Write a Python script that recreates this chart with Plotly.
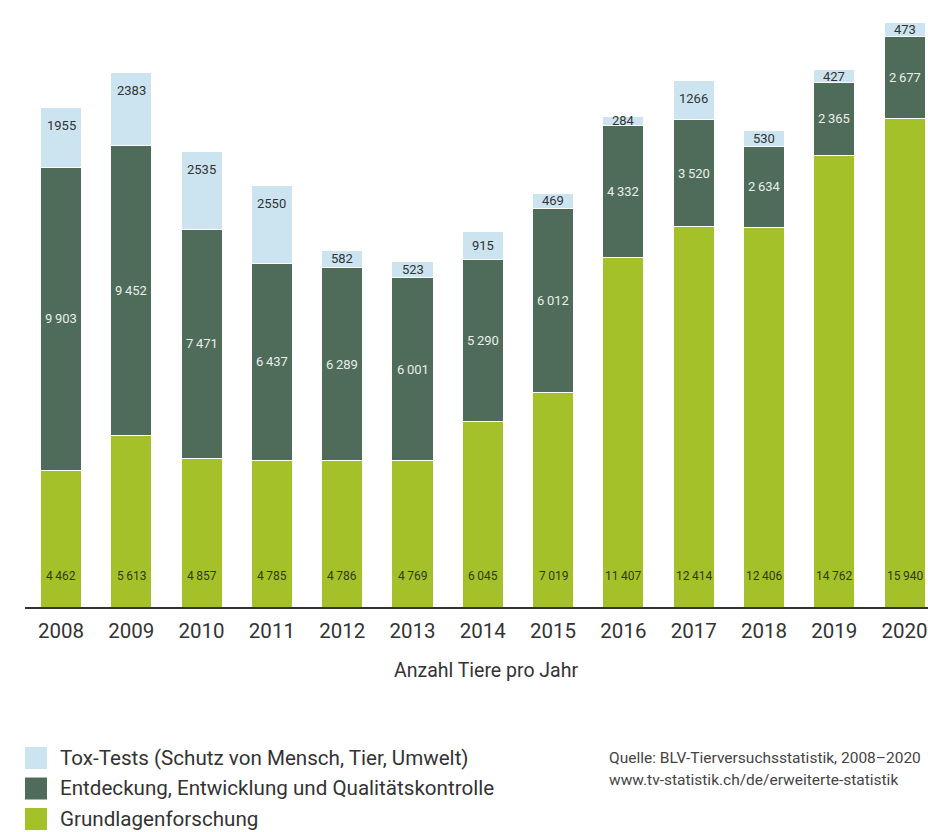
import plotly.graph_objects as go

years = [2008, 2009, 2010, 2011, 2012, 2013, 2014, 2015, 2016, 2017, 2018, 2019, 2020]
grundlagen = [4462, 5613, 4857, 4785, 4786, 4769, 6045, 7019, 11407, 12414, 12406, 14762, 15940]
entwicklung = [9903, 9452, 7471, 6437, 6289, 6001, 5290, 6012, 4332, 3520, 2634, 2365, 2677]
tox = [1955, 2383, 2535, 2550, 582, 523, 915, 469, 284, 1266, 530, 427, 473]

names = ["Grundlagenforschung",
         "Entdeckung, Entwicklung und Qualitätskontrolle",
         "Tox-Tests (Schutz von Mensch, Tier, Umwelt)"]
colors = ["#a5c12a", "#4f6b5a", "#cbe4f0"]
source_lines = ["Quelle: BLV-Tierversuchsstatistik, 2008–2020",
                "www.tv-statistik.ch/de/erweiterte-statistik"]

W, H = 928, 832
ML, MB = 25, 225
PLOT_H = H - MB          # 607 px
PLOT_W = W - ML          # 903 px
UNITS_PER_PX = 32.66
YMAX = PLOT_H * UNITS_PER_PX
STEP_PX = 70.3
X0 = years[0] - 36 / STEP_PX
X1 = X0 + PLOT_W / STEP_PX
FONT = "Roboto, Lato, sans-serif"

def fmt(v):
    s = f"{v:,}"
    return s.replace(",", "\u2009")

fig = go.Figure()
for vals, name, col in zip([grundlagen, entwicklung, tox], names, colors):
    fig.add_trace(go.Bar(x=years, y=vals, name=name, width=0.585,
                         marker=dict(color=col, line=dict(color="white", width=1)),
                         showlegend=False, hoverinfo="x+y+name"))

ann = []
px = UNITS_PER_PX
for i, yr in enumerate(years):
    g, e, t = grundlagen[i], entwicklung[i], tox[i]
    ann.append(dict(x=yr, y=31 * px, text=fmt(g), showarrow=False, xref="x", yref="y",
                    font=dict(size=12, color="#2e3a1a", family=FONT)))
    ann.append(dict(x=yr, y=g + e / 2, text=fmt(e), showarrow=False, xref="x", yref="y",
                    font=dict(size=13, color="#e8efe9", family=FONT)))
    top = g + e + t
    ty = max(top - 18 * px, g + e + t / 2)
    ann.append(dict(x=yr, y=ty, text=str(t), showarrow=False, xref="x", yref="y",
                    font=dict(size=13, color="#333333", family=FONT)))

def py(Y):
    return (PLOT_H - Y) / PLOT_H

def pxp(X):
    return (X - ML) / PLOT_W

ann.append(dict(x=pxp(486), y=py(670), xref="paper", yref="paper", text="Anzahl Tiere pro Jahr",
                xanchor="center", yanchor="middle",
                showarrow=False, font=dict(size=19.5, color="#333333", family=FONT)))

shapes = []
legend_order = [2, 1, 0]
for k, idx in enumerate(legend_order):
    yc = 758 + k * 30.5
    shapes.append(dict(type="rect", xref="paper", yref="paper",
                       x0=pxp(25), x1=pxp(47), y0=py(yc + 11), y1=py(yc - 11),
                       fillcolor=colors[idx], line=dict(width=0)))
    ann.append(dict(x=pxp(58), y=py(yc), xref="paper", yref="paper", text=names[idx],
                    xanchor="left", yanchor="middle", showarrow=False,
                    font=dict(size=20.6, color="#333333", family=FONT)))

for k, line in enumerate(source_lines):
    ann.append(dict(x=pxp(607), y=py(758 + k * 22), xref="paper", yref="paper", text=line,
                    xanchor="left", yanchor="middle", showarrow=False,
                    font=dict(size=15.5, color="#444444", family=FONT)))

fig.update_layout(
    width=W, height=H, barmode="stack",
    margin=dict(l=ML, r=0, t=0, b=MB, pad=0),
    paper_bgcolor="white", plot_bgcolor="white",
    xaxis=dict(range=[X0, X1], tickmode="array", tickvals=years,
               ticktext=[str(y) for y in years], showgrid=False, zeroline=False,
               showline=True, linecolor="#333333", linewidth=1.5, ticks="",
               ticklabelstandoff=5, ticklabeloverflow="allow",
               tickfont=dict(size=20.5, color="#333333", family=FONT)),
    yaxis=dict(range=[0, YMAX], visible=False, showgrid=False, zeroline=False),
    annotations=ann, shapes=shapes, font=dict(family=FONT),
)

fig.write_html("out.html")
